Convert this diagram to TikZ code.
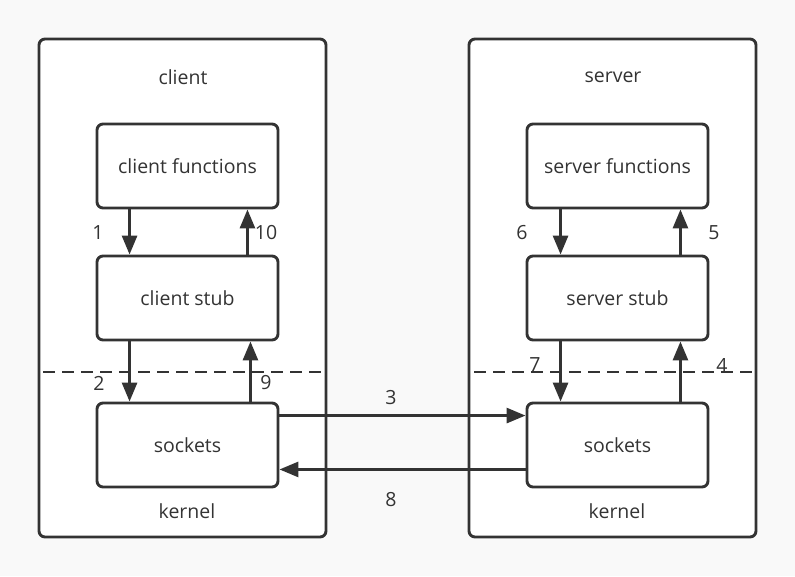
\documentclass[tikz,border=0pt]{standalone}
\usepackage{fontspec}
\setmainfont{Open Sans}
\usetikzlibrary{arrows.meta}
\definecolor{ink}{HTML}{333333}
\definecolor{paper}{HTML}{F9F9F9}
\begin{document}
\begin{tikzpicture}
[x=1pt,y=-1pt,
  hostdecorate/.style={shape=rectangle,draw=ink,line width=2.9pt,rounded corners=6pt,fill=white,minimum width=287pt,minimum height=498pt},
  boxdecorate/.style={shape=rectangle,draw=ink,line width=2.9pt,rounded corners=6pt,fill=white,minimum width=181pt,minimum height=84pt,text=ink,font=\fontsize{19.5}{22}\selectfont},
  textdecorate/.style={text=ink,font=\fontsize{19.5}{22}\selectfont},
  linedecorate/.style={draw=ink,line width=2.9pt,-{Triangle[length=19pt,width=15pt]}},
  dashdecorate/.style={draw=ink,line width=2.6pt,dash pattern=on 12pt off 7pt}]
% canvas
\fill[paper] (0,0) rectangle (795,576);
\useasboundingbox (0,0) rectangle (795,576);
%
%%% client side
% boxes
\node (lh) at (182.5,288) [hostdecorate] {};
\node (lt) at (183,77) [textdecorate] {client};
\node (lf) at (187.5,166) [boxdecorate] {client functions};
\node (ls) at (187.5,298) [boxdecorate] {client stub};
\node (lk) at (187.5,445) [boxdecorate] {sockets};
\node (lb) at (187,511) [textdecorate] {kernel};
\coordinate (ld1) at (43,372);
\coordinate (ld2) at (321,372);
% arrows
\draw[dashdecorate] (ld1) -- (ld2);
\draw[linedecorate] ([xshift=34pt]lf.south west) -- ([xshift=34pt]ls.north west);
\draw[linedecorate] ([xshift=-32pt]ls.north east) -- ([xshift=-32pt]lf.south east);
\draw[linedecorate] ([xshift=34pt]ls.south west) -- ([xshift=34pt]lk.north west);
\draw[linedecorate] ([xshift=-29pt]lk.north east) -- ([xshift=-29pt]ls.south east);
\node at (98,233) [textdecorate] {1};
\node at (266,233) [textdecorate] {10};
\node at (99,383) [textdecorate] {2};
\node at (266,383) [textdecorate] {9};
%
%%% server side
% boxes
\node (rh) at (612.5,288) [hostdecorate] {};
\node (rt) at (613,77) [textdecorate] {server};
\node (rf) at (617.5,166) [boxdecorate] {server functions};
\node (rs) at (617.5,298) [boxdecorate] {server stub};
\node (rk) at (617.5,445) [boxdecorate] {sockets};
\node (rb) at (617,511) [textdecorate] {kernel};
\coordinate (rd1) at (474,372);
\coordinate (rd2) at (752,372);
% arrows
\draw[dashdecorate] (rd1) -- (rd2);
\draw[linedecorate] ([xshift=35pt]rf.south west) -- ([xshift=35pt]rs.north west);
\draw[linedecorate] ([xshift=-29pt]rs.north east) -- ([xshift=-29pt]rf.south east);
\draw[linedecorate] ([xshift=35pt]rs.south west) -- ([xshift=35pt]rk.north west);
\draw[linedecorate] ([xshift=-29pt]rk.north east) -- ([xshift=-29pt]rs.south east);
\node at (522,233) [textdecorate] {6};
\node at (714,233) [textdecorate] {5};
\node at (535,365) [textdecorate] {7};
\node at (722,365) [textdecorate] {4};
%
%%% network
\draw[linedecorate] ([yshift=-14pt]lk.north east) -- ([yshift=-14pt]rk.north west);
\draw[linedecorate] ([yshift=19pt]rk.south west) -- ([yshift=19pt]lk.south east);
\node at (391,398) [textdecorate] {3};
\node at (391,500) [textdecorate] {8};
\end{tikzpicture}
\end{document}
